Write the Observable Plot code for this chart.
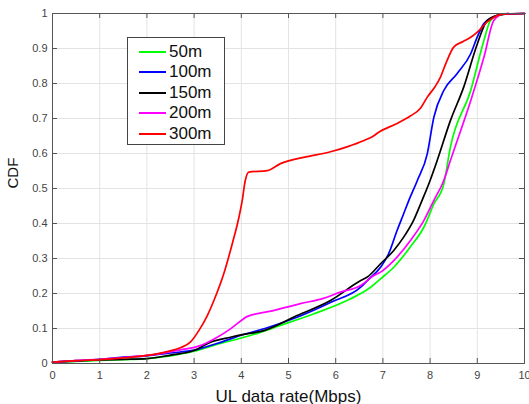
<!DOCTYPE html>
<html>
<head>
<meta charset="utf-8">
<script src="https://cdn.jsdelivr.net/npm/d3@7"></script>
<script src="https://cdn.jsdelivr.net/npm/@observablehq/plot@0.6"></script>
<style>
  body { margin: 0; background: #fff; }
  #wrap { position: relative; width: 529px; height: 404px; font-family: "Liberation Sans", Arial, sans-serif; }
  #legend { position: absolute; left: 127px; top: 37px; width: 98px; height: 108px; box-sizing: border-box;
            border: 1px solid #444; background: #fff; }
  .entry { position: absolute; left: 0; height: 20px; width: 96px; }
  .entry .ln { position: absolute; left: 11px; top: 9px; width: 27px; height: 0; border-top: 2px solid; }
  .entry .tx { position: absolute; left: 41px; top: 0; font-size: 17px; line-height: 20px; color: #111; }
</style>
</head>
<body>
<div id="wrap"><div id="chart"></div><div id="legend"></div></div>
<script>
const seriesNames = ["50m", "100m", "150m", "200m", "300m"];
const seriesColors = ["#00ff00", "#0000ff", "#000000", "#ff00ff", "#ff0000"];
const xTicks = [0, 1, 2, 3, 4, 5, 6, 7, 8, 9, 10];
const yTicks = [0, 0.1, 0.2, 0.3, 0.4, 0.5, 0.6, 0.7, 0.8, 0.9, 1];
const xTitle = "UL data rate(Mbps)";
const yTitle = "CDF";

const rate50 = [0, 0.5, 1, 1.5, 2, 2.5, 3, 3.5, 4.12, 4.83, 5.54, 6.24, 6.53, 6.74, 6.95, 7.23, 7.58, 7.87, 8.08, 8.29, 8.43, 8.86, 9.14, 9.28, 9.5, 10];
const cdf50  = [0.004, 0.006, 0.009, 0.011, 0.014, 0.022, 0.035, 0.055, 0.077, 0.109, 0.142, 0.18, 0.2, 0.218, 0.242, 0.275, 0.333, 0.39, 0.456, 0.513, 0.618, 0.78, 0.923, 0.98, 0.997, 1];

const rate100 = [0, 0.5, 1, 1.5, 2, 2.5, 3, 3.5, 4.05, 4.5, 5.18, 5.9, 6.53, 6.67, 6.95, 7.12, 7.3, 7.44, 7.55, 7.73, 7.94, 8.08, 8.29, 8.57, 8.86, 9.0, 9.14, 9.42, 9.6, 10];
const cdf100  = [0.004, 0.008, 0.012, 0.018, 0.022, 0.03, 0.038, 0.058, 0.083, 0.1, 0.132, 0.175, 0.218, 0.237, 0.275, 0.313, 0.38, 0.428, 0.466, 0.523, 0.599, 0.704, 0.78, 0.828, 0.885, 0.933, 0.971, 0.994, 0.999, 1];

const rate150 = [0, 0.5, 1, 1.5, 2, 2.5, 3, 3.35, 3.77, 4.05, 4.48, 5.18, 5.89, 6.53, 6.67, 6.95, 7.23, 7.44, 7.65, 7.83, 8.0, 8.15, 8.43, 8.71, 9.0, 9.21, 9.5, 10];
const cdf150  = [0.004, 0.007, 0.01, 0.012, 0.014, 0.024, 0.037, 0.061, 0.075, 0.083, 0.094, 0.137, 0.18, 0.237, 0.247, 0.285, 0.323, 0.361, 0.409, 0.466, 0.523, 0.58, 0.694, 0.789, 0.913, 0.98, 0.997, 1];

const rate200 = [0, 0.5, 1, 1.5, 2, 2.71, 3.13, 3.49, 3.77, 4.05, 4.12, 4.68, 5.25, 5.74, 6.1, 6.53, 6.8, 6.95, 7.23, 7.58, 7.87, 8.08, 8.29, 8.43, 8.86, 9.14, 9.35, 9.56, 10];
const cdf200  = [0.004, 0.008, 0.012, 0.017, 0.023, 0.039, 0.051, 0.075, 0.099, 0.128, 0.134, 0.151, 0.171, 0.186, 0.204, 0.223, 0.251, 0.261, 0.294, 0.351, 0.409, 0.466, 0.523, 0.58, 0.751, 0.875, 0.98, 0.999, 1];

const rate300 = [0, 0.5, 1.0, 1.5, 2.0, 2.43, 2.71, 2.92, 3.1, 3.28, 3.42, 3.63, 3.81, 3.95, 4.02, 4.08, 4.16, 4.55, 4.83, 5.32, 5.89, 6.24, 6.6, 6.8, 6.88, 7.3, 7.58, 7.8, 7.94, 8.1, 8.22, 8.33, 8.5, 8.7, 8.86, 9.0, 9.21, 9.42, 9.6, 10];
const cdf300  = [0.004, 0.008, 0.011, 0.016, 0.023, 0.034, 0.045, 0.061, 0.094, 0.137, 0.18, 0.257, 0.343, 0.418, 0.466, 0.52, 0.547, 0.551, 0.571, 0.589, 0.605, 0.619, 0.637, 0.65, 0.658, 0.686, 0.707, 0.73, 0.761, 0.79, 0.818, 0.856, 0.904, 0.92, 0.932, 0.947, 0.976, 0.994, 0.999, 1];

const rates = [rate50, rate100, rate150, rate200, rate300];
const cdfs = [cdf50, cdf100, cdf150, cdf200, cdf300];
const data = [];
seriesNames.forEach((name, i) => {
  rates[i].forEach((r, j) => data.push({series: name, rate: r, cdf: cdfs[i][j]}));
});

const W = 529, H = 404, mL = 52, mR = 5, mT = 13, mB = 41;
const fw = W - mL - mR, fh = H - mT - mB, tl = 5;
const axisColor = "#555";

const chart = Plot.plot({
  width: W, height: H,
  marginLeft: mL, marginRight: mR, marginTop: mT, marginBottom: mB,
  style: {fontFamily: '"Liberation Sans", Arial, sans-serif', background: "#fff"},
  x: {domain: [0, 10]},
  y: {domain: [0, 1]},
  color: {domain: seriesNames, range: seriesColors},
  marks: [
    Plot.gridX(xTicks, {stroke: "#e3e3e3", strokeOpacity: 1}),
    Plot.gridY(yTicks, {stroke: "#e3e3e3", strokeOpacity: 1}),
    Plot.line(data, {x: "rate", y: "cdf", z: "series", stroke: "series", strokeWidth: 1.7, curve: "monotone-x"}),
    Plot.ruleX(xTicks, {x: d => d, insetTop: fh - tl, stroke: axisColor}),
    Plot.ruleX(xTicks, {x: d => d, insetBottom: fh - tl, stroke: axisColor}),
    Plot.ruleY(yTicks, {y: d => d, insetRight: fw - tl, stroke: axisColor}),
    Plot.ruleY(yTicks, {y: d => d, insetLeft: fw - tl, stroke: axisColor}),
    Plot.frame({stroke: axisColor, strokeWidth: 1}),
    Plot.axisX(xTicks, {tickSize: 0, tickPadding: 8, fontSize: 11, color: "#444", label: null}),
    Plot.axisY(yTicks, {tickSize: 0, tickPadding: 5, fontSize: 11, color: "#444", label: null, tickFormat: d => String(d)}),
    Plot.text([xTitle], {text: d => d, frameAnchor: "bottom", dy: 38, lineAnchor: "bottom", fontSize: 17, fill: "#111"}),
    Plot.text([yTitle], {text: d => d, frameAnchor: "left", dx: -39, rotate: -90, fontSize: 15, fill: "#111"})
  ]
});
document.getElementById("chart").appendChild(chart);

const legend = document.getElementById("legend");
seriesNames.forEach((name, i) => {
  const e = document.createElement("div");
  e.className = "entry";
  e.style.top = (4 + i * 20.4) + "px";
  const ln = document.createElement("div");
  ln.className = "ln";
  ln.style.borderTopColor = seriesColors[i];
  const tx = document.createElement("div");
  tx.className = "tx";
  tx.textContent = name;
  e.appendChild(ln); e.appendChild(tx);
  legend.appendChild(e);
});
</script>
</body>
</html>
